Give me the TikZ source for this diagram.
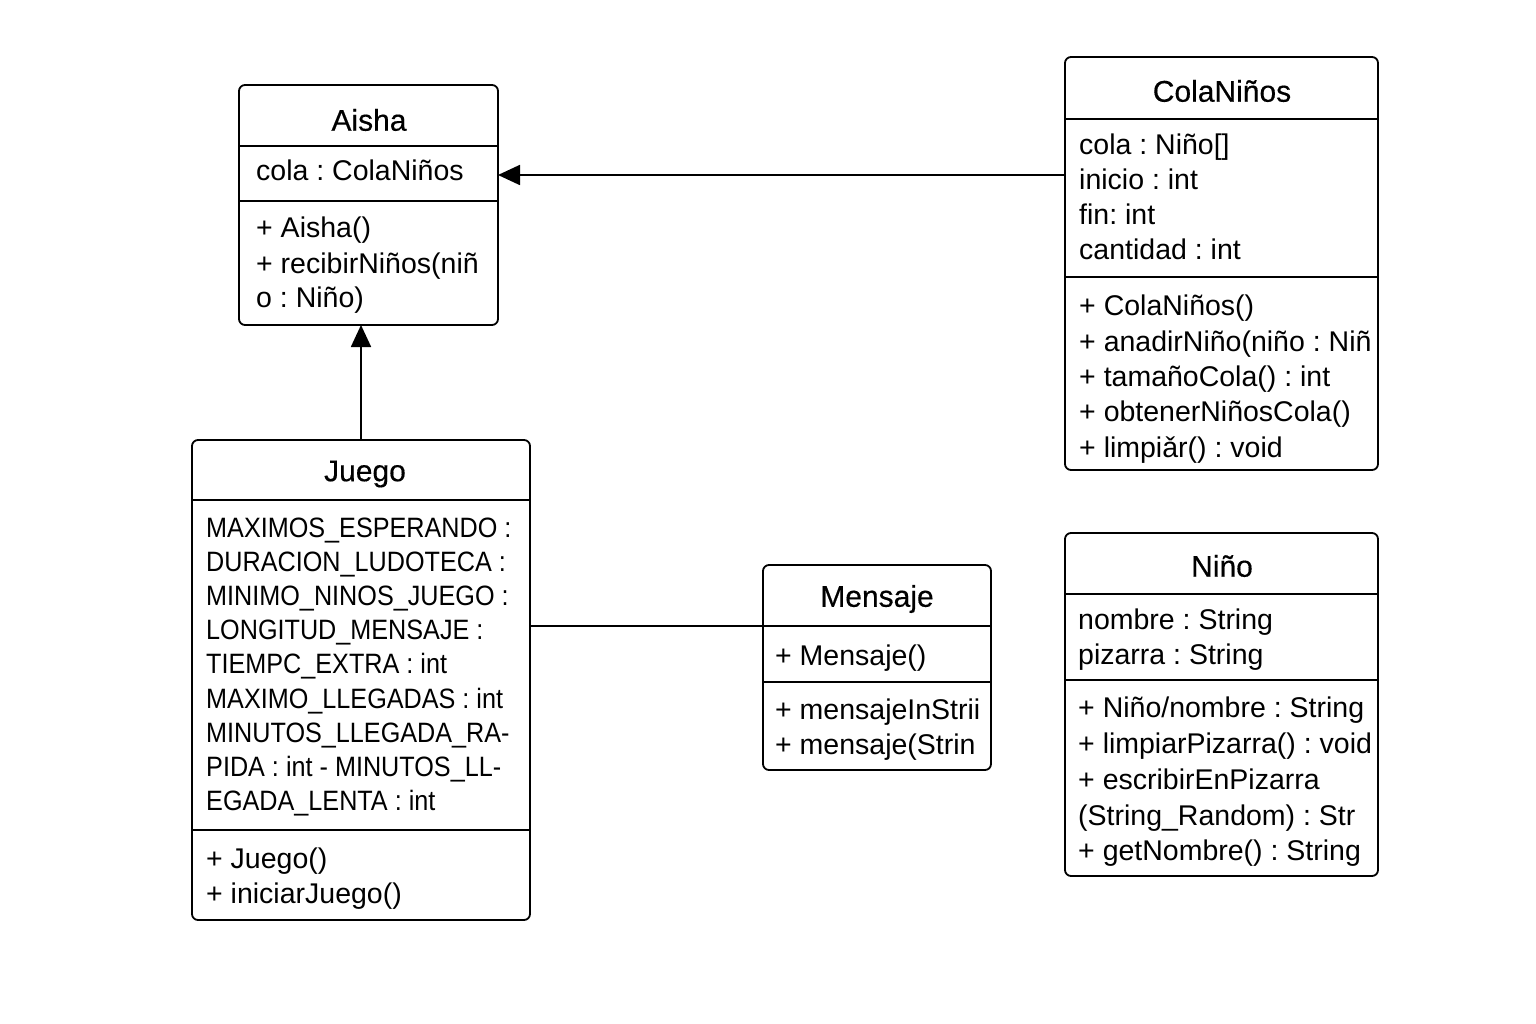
\documentclass[tikz,border=0pt]{standalone}
\usepackage{fontspec}
\setmainfont{Liberation Sans}
\newfontfamily\capsfont[FakeStretch=0.9]{Liberation Sans}
\newfontfamily\titlefont[FakeBold=0.4]{Liberation Sans}
\usetikzlibrary{arrows.meta}
\frenchspacing
\begin{document}
\begin{tikzpicture}[x=1pt,y=-1pt,
  umlbox/.style={draw, line width=1.8pt, rounded corners=6pt, anchor=north west, inner sep=0, outer sep=0, fill=white},
  divider/.style={line width=1.8pt},
  ttl/.style={inner sep=0, yshift=-2pt, font=\titlefont\fontsize{30}{34}\selectfont},
  txt/.style={inner sep=0, anchor=west, yshift=-3pt, text height=20pt, text depth=6pt, font=\fontsize{28.5}{32}\selectfont},
  caps/.style={inner sep=0, anchor=west, yshift=-3pt, text height=20pt, text depth=6pt, font=\capsfont\fontsize{28}{30}\selectfont},
  conn/.style={line width=1.8pt},
  arr/.style={line width=1.8pt, -{Triangle[length=22pt,width=20pt]}}
]
\useasboundingbox[fill=white] (0,0) rectangle (1536,1024);

% ---------- Aisha ----------
\node[umlbox, minimum width=259pt, minimum height=240pt] (aisha) at (239,85) {};
\draw[divider] (239,146) -- (498,146);
\draw[divider] (239,201) -- (498,201);
\node[ttl] (aishaT) at (369,118) {Aisha};
\node[txt] (aishaA1) at (256,171) {cola : ColaNiños};
\node[txt] (aishaM1) at (256,228) {+ Aisha()};
\node[txt] (aishaM2) at (256,263) {+ recibirNiños(niñ};
\node[txt] (aishaM3) at (256,297) {o : Niño)};

% ---------- ColaNiños ----------
\node[umlbox, minimum width=313pt, minimum height=413pt] (cola) at (1065,57) {};
\draw[divider] (1065,119) -- (1378,119);
\draw[divider] (1065,277) -- (1378,277);
\node[ttl] (colaT) at (1222,89) {ColaNiños};
\node[txt] (colaA1) at (1079,145) {cola : Niño[]};
\node[txt] (colaA2) at (1079,180) {inicio : int};
\node[txt] (colaA3) at (1079,215) {fin: int};
\node[txt] (colaA4) at (1079,250) {cantidad : int};
\begin{scope}
\clip (1066,278) rectangle (1376,469);
\node[txt] (colaM1) at (1079,305) {+ ColaNiños()};
\node[txt] (colaM2) at (1079,341) {+ anadirNiño(niño : Niñ};
\node[txt] (colaM3) at (1079,376) {+ tamañoCola() : int};
\node[txt] (colaM4) at (1079,411) {+ obtenerNiñosCola()};
\node[txt] (colaM5) at (1079,447) {+ limpiǎr() : void};
\end{scope}

% ---------- Juego ----------
\node[umlbox, minimum width=338pt, minimum height=480pt] (juego) at (192,440) {};
\draw[divider] (192,500) -- (530,500);
\draw[divider] (192,830) -- (530,830);
\node[ttl] (juegoT) at (365,472) {Juego};
\node[caps] (j1) at (206,527) {MAXIMOS\_ESPERANDO :};
\node[caps] (j2) at (206,561) {DURACION\_LUDOTECA :};
\node[caps] (j3) at (206,595) {MINIMO\_NINOS\_JUEGO :};
\node[caps] (j4) at (206,629) {LONGITUD\_MENSAJE :};
\node[caps] (j5) at (206,663) {TIEMPC\_EXTRA : int};
\node[caps] (j6) at (206,698) {MAXIMO\_LLEGADAS : int};
\node[caps] (j7) at (206,732) {MINUTOS\_LLEGADA\_RA-};
\node[caps] (j8) at (206,766) {PIDA : int - MINUTOS\_LL-};
\node[caps] (j9) at (206,800) {EGADA\_LENTA : int};
\node[txt] (jm1) at (206,858) {+ Juego()};
\node[txt] (jm2) at (206,893) {+ iniciarJuego()};

% ---------- Mensaje ----------
\node[umlbox, minimum width=228pt, minimum height=205pt] (mensaje) at (763,565) {};
\draw[divider] (763,626) -- (991,626);
\draw[divider] (763,682) -- (991,682);
\node[ttl] (mensajeT) at (877,597) {Mensaje};
\node[txt] (mensajeA1) at (775,655) {+ Mensaje()};
\begin{scope}
\clip (764,683) rectangle (983,769);
\node[txt] (mensajeM1) at (775,709) {+ mensajeInStrii};
\node[txt] (mensajeM2) at (775,744) {+ mensaje(Strin};
\end{scope}

% ---------- Niño ----------
\node[umlbox, minimum width=313pt, minimum height=343pt] (nino) at (1065,533) {};
\draw[divider] (1065,594) -- (1378,594);
\draw[divider] (1065,680) -- (1378,680);
\node[ttl] (ninoT) at (1222,564) {Niño};
\node[txt] (ninoA1) at (1078,619) {nombre : String};
\node[txt] (ninoA2) at (1078,654) {pizarra : String};
\begin{scope}
\clip (1066,681) rectangle (1376,875);
\node[txt] (ninoM1) at (1078,707) {+ Niño/nombre : String};
\node[txt] (ninoM2) at (1078,743) {+ limpiarPizarra() : void};
\node[txt] (ninoM3) at (1078,779) {+ escribirEnPizarra};
\node[txt] (ninoM4) at (1078,815) {(String\_Random) : Str};
\node[txt] (ninoM5) at (1078,850) {+ getNombre() : String};
\end{scope}

% ---------- connectors ----------
\coordinate (colaIn) at (1065,175);
\draw[arr] (cola.west |- colaIn) -- (aisha.east |- colaIn);
\draw[arr] (juego.north -| 361,0) -- (aisha.south -| 361,0);
\coordinate (msgY) at (0,626);
\draw[conn] (juego.east |- msgY) -- (mensaje.west |- msgY);
\end{tikzpicture}
\end{document}
